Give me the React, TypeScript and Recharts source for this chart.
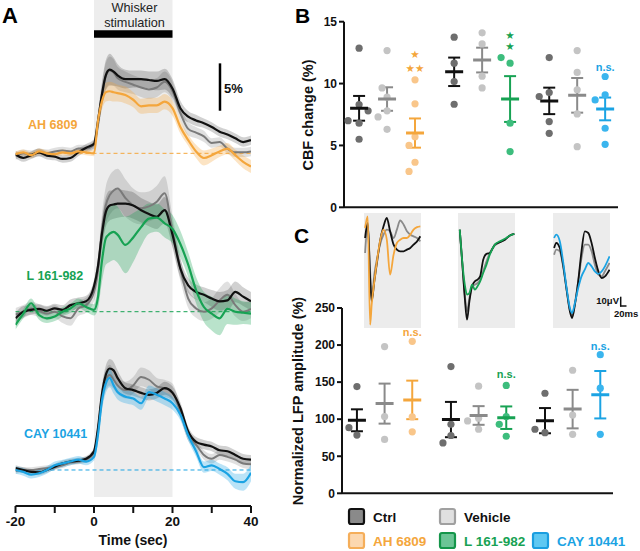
import React from 'react';
import {
  ComposedChart, ScatterChart, LineChart, Line, Area, Scatter, XAxis, YAxis,
  ReferenceArea, ReferenceLine, ErrorBar,
} from 'recharts';

const FONT = '"Liberation Sans", Arial, Helvetica, sans-serif';

// ---------- colours ----------
const C_CTRL = '#111111';
const C_VEH = '#8a8a8a';
const C_AH = '#f4a63c';
const C_L = '#17a253';
const C_CAY = '#1ba3e3';
const D_CTRL = '#6e6e6e';
const D_VEH = '#c4c4c4';
const D_AH = '#f9c68a';
const D_L = '#3dbd7d';
const D_CAY = '#3ab5ee';

// ---------- Panel A : CBF time courses (% change) ----------
const timeSec = [-20, -18, -16, -14, -12, -10, -8, -6, -4, -2, 0, 1, 2, 3, 4, 5, 6, 8, 10, 12, 14, 16, 18, 20, 22, 24, 26, 28, 30, 32, 34, 36, 38, 40];

const ahCtrl = [-0.1, -0.5, -0.2, 0.1, -0.25, -0.35, -0.6, -0.5, 0.1, 0.6, 1.0, 3.4, 6.2, 8.3, 8.9, 8.7, 8.3, 7.9, 7.9, 7.9, 7.8, 7.7, 7.9, 6.9, 4.8, 3.9, 3.5, 3.2, 2.8, 2.3, 2.0, 1.6, 1.2, 1.4];
const ahVeh = [-0.3, 0, -0.1, 0.1, 0, 0.2, 0.3, 0.2, 0.5, 0.5, 0.9, 3.0, 6.0, 8.2, 8.8, 8.6, 8.0, 7.6, 7.3, 7.0, 6.8, 7.0, 7.6, 6.6, 4.3, 2.6, 2.2, 1.8, 1.1, 1.2, 0.5, 0.1, 0.1, 0.2];
const ahDrug = [-0.1, 0.1, -0.2, 0.2, 0, -0.1, 0.1, 0, 0.2, 0.1, 0, 3.4, 5.5, 6.5, 6.6, 6.5, 6.4, 6.2, 5.7, 5.0, 5.1, 5.1, 5.5, 4.8, 2.8, 1.4, 0.2, -0.5, -0.2, 0.2, 0.5, -0.2, -0.9, -1.4];
const ahCtrlSem = [0.4, 0.4, 0.4, 0.4, 0.4, 0.4, 0.4, 0.4, 0.4, 0.4, 0.5, 0.9, 1.3, 1.6, 1.7, 1.5, 1.2, 1.0, 0.9, 0.9, 0.9, 1.0, 1.1, 1.0, 0.8, 0.6, 0.6, 0.5, 0.5, 0.5, 0.5, 0.5, 0.5, 0.5];
const ahVehSem = [0.4, 0.4, 0.4, 0.4, 0.4, 0.4, 0.4, 0.4, 0.4, 0.4, 0.5, 0.9, 1.2, 1.4, 1.5, 1.4, 1.2, 1.1, 1.0, 1.0, 1.0, 1.0, 1.1, 1.0, 0.8, 0.7, 0.6, 0.6, 0.5, 0.5, 0.5, 0.5, 0.5, 0.5];
const ahDrugSem = [0.3, 0.3, 0.3, 0.3, 0.3, 0.3, 0.3, 0.3, 0.3, 0.3, 0.3, 0.7, 0.9, 1.0, 1.0, 1.0, 0.9, 0.9, 0.8, 0.8, 0.8, 0.8, 0.8, 0.8, 0.7, 0.6, 0.7, 0.8, 0.7, 0.6, 0.6, 0.6, 0.7, 0.7];

const lCtrl = [-0.7, 0, 0.2, 0.3, 0.1, 0.35, 0.2, 0.7, 0.9, 1.1, 2.7, 4.8, 8.2, 10.6, 11.3, 11.4, 11.5, 11.5, 11.3, 10.8, 10.4, 10.1, 10.8, 8.2, 4.6, 2.8, 2.1, 1.8, 1.4, 1.1, 1.2, 2.1, 1.6, 1.1];
const lVeh = [-0.3, 0, 0.35, 0.1, -0.2, 0, -0.5, -0.7, 0.35, 0.7, 2.1, 4.3, 8.5, 11.3, 12.4, 12.9, 13.1, 12.1, 11.3, 11.0, 11.2, 11.7, 12.6, 8.5, 4.6, 1.4, 0.35, 0, 0.35, 1.2, 1.8, 0.7, 0, 0.3];
const lDrug = [-1.4, -0.2, 0.9, -0.35, -0.7, -0.5, 0, 0.35, 0.9, 0.5, 0.2, 1.5, 5.3, 7.8, 8.3, 8.5, 8.2, 7.1, 7.9, 9.0, 9.9, 10.0, 9.4, 8.8, 7.2, 5.0, 2.3, 0.5, -0.2, -0.7, 0.3, 0, -0.1, -0.2];
const lCtrlSem = [0.6, 0.6, 0.5, 0.5, 0.5, 0.5, 0.5, 0.6, 0.6, 0.6, 0.7, 1.0, 1.4, 1.6, 1.6, 1.5, 1.5, 1.4, 1.4, 1.3, 1.3, 1.3, 1.4, 1.3, 1.0, 0.8, 0.8, 0.8, 0.9, 1.0, 1.1, 1.1, 1.0, 1.0];
const lVehSem = [0.7, 0.7, 0.7, 0.7, 0.7, 0.7, 0.7, 0.8, 0.8, 0.8, 1.0, 1.4, 1.8, 2.0, 2.1, 2.1, 2.1, 2.0, 1.8, 1.7, 1.6, 1.7, 1.8, 1.7, 1.3, 1.0, 1.0, 1.0, 1.1, 1.3, 1.4, 1.2, 1.0, 1.0];
const lDrugSem = [0.5, 0.5, 0.5, 0.5, 0.5, 0.5, 0.5, 0.5, 0.5, 0.5, 0.6, 1.2, 2.2, 2.8, 3.0, 3.0, 3.0, 3.0, 2.6, 2.0, 1.6, 1.5, 1.5, 1.5, 1.4, 1.3, 1.4, 1.6, 1.8, 1.8, 1.6, 1.4, 1.2, 1.2];

const cayCtrl = [0.2, 0, -0.2, -0.25, 0, 0.35, 0.7, 0.9, 1.0, 1.2, 2.0, 4.4, 8.0, 10.1, 10.8, 10.6, 9.8, 8.7, 8.5, 8.2, 8.0, 8.2, 8.7, 8.2, 6.6, 4.1, 3.0, 2.7, 2.5, 2.1, 2.0, 1.6, 1.2, 1.1];
const cayVeh = [-0.1, 0, 0, 0.1, 0.2, 0.3, 0.5, 0.8, 0.9, 1.1, 1.8, 4.1, 7.6, 9.6, 10.1, 9.6, 9.0, 8.5, 9.0, 9.9, 9.6, 8.9, 8.7, 8.3, 6.2, 3.7, 2.7, 1.6, 1.2, 1.6, 1.4, 1.1, 0.7, 0.6];
const cayDrug = [0, -0.2, -0.5, -0.35, 0, 0.5, 0.7, 0.9, 1.1, 0.9, 1.4, 3.7, 7.3, 9.2, 9.8, 9.0, 8.3, 7.8, 7.6, 7.1, 8.3, 8.0, 7.6, 7.1, 5.9, 3.7, 2.0, 0.3, 0.5, 0.1, -0.4, -1.2, -1.3, -0.3];
const cayCtrlSem = [0.3, 0.3, 0.3, 0.3, 0.3, 0.3, 0.3, 0.3, 0.3, 0.3, 0.4, 0.7, 0.9, 1.0, 1.0, 0.9, 0.8, 0.6, 0.6, 0.6, 0.6, 0.6, 0.7, 0.7, 0.6, 0.5, 0.5, 0.5, 0.5, 0.5, 0.5, 0.5, 0.5, 0.5];
const cayVehSem = [0.3, 0.3, 0.3, 0.3, 0.3, 0.3, 0.3, 0.3, 0.3, 0.3, 0.4, 0.8, 1.0, 1.1, 1.1, 1.0, 0.9, 0.9, 0.9, 1.0, 1.0, 0.9, 0.9, 0.9, 0.7, 0.6, 0.5, 0.5, 0.5, 0.5, 0.5, 0.5, 0.5, 0.5];
const cayDrugSem = [0.4, 0.4, 0.4, 0.4, 0.4, 0.4, 0.4, 0.4, 0.4, 0.4, 0.4, 0.8, 1.0, 1.0, 1.0, 0.9, 0.8, 0.7, 0.7, 0.7, 0.7, 0.7, 0.7, 0.7, 0.6, 0.6, 0.6, 0.6, 0.6, 0.6, 0.7, 0.8, 0.9, 0.9];

const drugNames = ['AH 6809', 'L 161-982', 'CAY 10441'];

// ---------- Panel B : CBF change (%) per animal ----------
const cbfCtrlDots = [[12.86, 6.8, 8.3, 7.0, 5.5, 7.8], [13.75, 11.65, 10.16, 8.33], [12.1, 9.27, 8.95, 6.93, 5.98]];
const cbfVehDots = [[12.67, 8.9, 9.65, 7.8, 7.3, 6.3], [14.1, 13.2, 10.6, 9.65], [12.67, 10.9, 9.5, 7.55, 4.9]];
const cbfDrugDots = [[10.3, 8.36, 5.7, 5.0, 3.64, 2.9], [11.65, 12.1, 6.8, 4.5], [10.57, 9.08, 8.68, 6.39, 5.09]];
const cbfCtrlMean = [8.0, 10.95, 8.6];
const cbfCtrlSem = [1.0, 1.15, 1.07];
const cbfVehMean = [8.75, 11.9, 9.05];
const cbfVehSem = [0.95, 1.0, 1.4];
const cbfDrugMean = [6.0, 8.75, 7.95];
const cbfDrugSem = [1.18, 1.85, 0.92];
const cbfMarks = [
  { group: 0, y: 12.35, label: '★' },
  { group: 0, y: 11.26, label: '★★' },
  { group: 1, y: 13.93, label: '★' },
  { group: 1, y: 13.0, label: '★' },
  { group: 2, y: 11.37, label: 'n.s.' },
];

// ---------- Panel C : normalized LFP amplitude (%) ----------
const lfpCtrlDots = [[144, 78.6, 88.6], [171, 93, 78, 68], [135, 81.8, 86.4]];
const lfpVehDots = [[198, 103.6, 72.7], [144.5, 101.4, 97.7, 86.4], [166, 105.5, 79.5]];
const lfpDrugDots = [[205, 103, 83], [145.5, 103.6, 93, 77], [187, 141.8, 79.5]];
const lfpCtrlMean = [98.5, 99.5, 98];
const lfpCtrlSem = [14.8, 23.8, 17];
const lfpVehMean = [121, 105, 113.6];
const lfpVehSem = [27, 12.6, 26];
const lfpDrugMean = [126, 102, 133];
const lfpDrugSem = [26, 15.2, 32];
const lfpMarks = [
  { group: 0, y: 217, label: 'n.s.' },
  { group: 1, y: 160.5, label: 'n.s.' },
  { group: 2, y: 199, label: 'n.s.' },
];

// ---------- Panel C insets : LFP waveforms (µV vs ms) ----------
const wave1Ms = [5, 17, 28, 35, 47, 60, 73, 89, 104, 119, 135, 150, 165, 181, 196, 211, 226, 242, 257];
const wave1Ctrl = [0, 18, -48, -76, -52, -28, -4, 14, 24, 8, -8, -14, -16, -16, -14, -12, -8, -4, 2];
const wave1Veh = [-18, 16, -40, -74, -44, -24, -8, 4, 10, 8, 0, 10, 21, 16, 8, 4, 2, 0, -4];
const wave1Drug = [12, 26, -104, -80, -52, -26, -4, 10, -2, -44, -20, -6, -2, 0, 0, 4, 10, 13, 14];
const wave2Ms = [8, 18, 31, 41, 52, 64, 77, 89, 101, 115, 130, 145, 168, 191, 214, 237, 257];
const wave2Ctrl = [10, -24, -72, -98, -76, -58, -52, -50, -46, -26, -19, -18, -8, -5, -2, 3, 5];
const wave2Veh = [8, -26, -68, -88, -72, -58, -56, -54, -50, -40, -28, -18, -9, -5, -2, 3, 5];
const wave2Drug = [10, -24, -56, -68, -66, -56, -62, -58, -52, -42, -32, -20, -8, -4, -1, 3, 5];
const wave3Ms = [5, 15, 31, 46, 61, 77, 87, 100, 115, 130, 145, 161, 176, 191, 207, 222, 237, 258];
const wave3Ctrl = [-12, -6, -12, -32, -60, -88, -96, -80, -52, -16, 8, 6, -6, -24, -40, -48, -46, -38];
const wave3Veh = [-20, -14, -16, -34, -60, -86, -94, -78, -52, -24, -8, -8, -16, -32, -44, -46, -40, -30];
const wave3Drug = [0, 4, -4, -28, -58, -84, -90, -78, -60, -46, -38, -30, -34, -40, -43, -40, -34, -22];

// ---------- build tables ----------
const traceGroups = [
  { id: 'a', ctrl: ahCtrl, ctrlSem: ahCtrlSem, veh: ahVeh, vehSem: ahVehSem, drug: ahDrug, drugSem: ahDrugSem, color: C_AH, domain: [-37.52, 16.31] },
  { id: 'b', ctrl: lCtrl, ctrlSem: lCtrlSem, veh: lVeh, vehSem: lVehSem, drug: lDrug, drugSem: lDrugSem, color: C_L, domain: [-20.67, 33.16] },
  { id: 'c', ctrl: cayCtrl, ctrlSem: cayCtrlSem, veh: cayVeh, vehSem: cayVehSem, drug: cayDrug, drugSem: cayDrugSem, color: C_CAY, domain: [-3.83, 50.0] },
];

const traceData = timeSec.map((t, i) => {
  const row: any = { t };
  traceGroups.forEach((g) => {
    row[g.id + 'Ctrl'] = g.ctrl[i];
    row[g.id + 'Veh'] = g.veh[i];
    row[g.id + 'Drug'] = g.drug[i];
    row[g.id + 'CtrlBand'] = [g.ctrl[i] - g.ctrlSem[i], g.ctrl[i] + g.ctrlSem[i]];
    row[g.id + 'VehBand'] = [g.veh[i] - g.vehSem[i], g.veh[i] + g.vehSem[i]];
    row[g.id + 'DrugBand'] = [g.drug[i] - g.drugSem[i], g.drug[i] + g.drugSem[i]];
  });
  return row;
});

const GROUP_GAP = 3.4;
const xPos = (g: number, c: number) => g * GROUP_GAP + c;
const drugColors = [C_AH, C_L, C_CAY];
const drugDotColors = [D_AH, D_L, D_CAY];

// simple beeswarm so overlapping dots are pushed sideways
function swarm(values: number[], pxPerY: number, pxPerX: number, diam: number) {
  const placed: { off: number; v: number }[] = [];
  return values.map((v) => {
    let off = 0;
    for (let k = 0; k < 80; k++) {
      const cand = k === 0 ? 0 : (k % 2 ? -1 : 1) * Math.ceil(k / 2);
      const ok = placed.every((p) => Math.hypot(cand - p.off, (v - p.v) * pxPerY) >= diam);
      if (ok) { off = cand; break; }
    }
    placed.push({ off, v });
    return off / pxPerX;
  });
}

function column(vals: number[], g: number, c: number, pxPerY: number, pxPerX: number) {
  const offs = swarm(vals, pxPerY, pxPerX, 10.5);
  return vals.map((v, i) => ({ x: xPos(g, c) + offs[i], y: v }));
}

function meanRows(means: number[], sems: number[], c: number) {
  return means.map((m, g) => ({ x: xPos(g, c), y: m, err: sems[g] }));
}

const dotShape = (color: string) => (p: any) => (
  <circle cx={p.cx} cy={p.cy} r={3.6} fill={color} stroke="none" />
);
const meanShape = (color: string) => (p: any) => (
  <line x1={p.cx - 9} x2={p.cx + 9} y1={p.cy} y2={p.cy} stroke={color} strokeWidth={3} />
);
const markShape = (p: any) => {
  const star = p.payload.label.indexOf('★') >= 0;
  return (
    <text x={p.cx} y={p.cy} textAnchor="middle" dominantBaseline="central"
      fill={p.payload.color} fontSize={star ? 10.5 : 11} fontWeight={700}
      fontFamily={star ? '"DejaVu Sans", sans-serif' : FONT}>{p.payload.label}</text>
  );
};

function StripPanel(props: any) {
  const { width, height, margin, domain, ticks, yWidth, ctrlDots, vehDots, drugDots,
    ctrlMean, ctrlSem, vehMean, vehSem, drugMean, drugSem, marks, pxPerY, pxPerX } = props;
  const tickStyle = { fill: '#111', fontSize: 12, fontWeight: 700, fontFamily: FONT };
  return (
    <ScatterChart width={width} height={height} margin={margin}>
      <XAxis type="number" dataKey="x" domain={[-0.54, 9.26]} height={2} tick={false} tickLine={false}
        axisLine={{ stroke: '#111', strokeWidth: 2 }} allowDataOverflow />
      <YAxis type="number" dataKey="y" domain={domain} ticks={ticks} width={yWidth} tickSize={5} tickMargin={2}
        interval={0} axisLine={{ stroke: '#111', strokeWidth: 2 }} tickLine={{ stroke: '#111', strokeWidth: 2 }}
        tick={tickStyle} allowDataOverflow />
      <Scatter data={ctrlDots.flatMap((v: number[], g: number) => column(v, g, 0, pxPerY, pxPerX))}
        shape={dotShape(D_CTRL)} isAnimationActive={false} />
      <Scatter data={vehDots.flatMap((v: number[], g: number) => column(v, g, 1, pxPerY, pxPerX))}
        shape={dotShape(D_VEH)} isAnimationActive={false} />
      {drugDots.map((v: number[], g: number) => (
        <Scatter key={'dd' + g} data={column(v, g, 2, pxPerY, pxPerX)} shape={dotShape(drugDotColors[g])}
          isAnimationActive={false} />
      ))}
      <Scatter data={meanRows(vehMean, vehSem, 1)} shape={meanShape(C_VEH)} isAnimationActive={false}>
        <ErrorBar dataKey="err" direction="y" width={6} stroke={C_VEH} strokeWidth={2} />
      </Scatter>
      <Scatter data={meanRows(ctrlMean, ctrlSem, 0)} shape={meanShape(C_CTRL)} isAnimationActive={false}>
        <ErrorBar dataKey="err" direction="y" width={6} stroke={C_CTRL} strokeWidth={2} />
      </Scatter>
      {drugMean.map((m: number, g: number) => (
        <Scatter key={'dm' + g} data={[{ x: xPos(g, 2), y: m, err: drugSem[g] }]}
          shape={meanShape(drugColors[g])} isAnimationActive={false}>
          <ErrorBar dataKey="err" direction="y" width={6} stroke={drugColors[g]} strokeWidth={2} />
        </Scatter>
      ))}
      <Scatter data={marks.map((m: any) => ({ x: xPos(m.group, 2), y: m.y, label: m.label, color: drugColors[m.group] }))}
        shape={markShape} isAnimationActive={false} />
    </ScatterChart>
  );
}

const waveSets = [
  { ms: wave1Ms, ctrl: wave1Ctrl, veh: wave1Veh, drug: wave1Drug, color: C_AH, left: 364 },
  { ms: wave2Ms, ctrl: wave2Ctrl, veh: wave2Veh, drug: wave2Drug, color: C_L, left: 458 },
  { ms: wave3Ms, ctrl: wave3Ctrl, veh: wave3Veh, drug: wave3Drug, color: C_CAY, left: 553 },
];

function Inset({ set }: any) {
  const rows = (arr: number[]) => set.ms.map((ms: number, i: number) => ({ ms, v: arr[i] }));
  return (
    <div style={{ position: 'absolute', left: set.left, top: 213, width: 57, height: 115, background: '#ececec' }}>
      <LineChart width={57} height={115} margin={{ top: 0, right: 0, left: 0, bottom: 0 }}>
        <XAxis type="number" dataKey="ms" domain={[0, 260]} hide allowDataOverflow />
        <YAxis type="number" dataKey="v" domain={[-108, 30]} hide allowDataOverflow />
        <Line data={rows(set.veh)} dataKey="v" stroke={C_VEH} strokeWidth={1.8} dot={false} type="monotone" isAnimationActive={false} />
        <Line data={rows(set.ctrl)} dataKey="v" stroke={C_CTRL} strokeWidth={1.8} dot={false} type="monotone" isAnimationActive={false} />
        <Line data={rows(set.drug)} dataKey="v" stroke={set.color} strokeWidth={1.8} dot={false} type="monotone" isAnimationActive={false} />
      </LineChart>
    </div>
  );
}

const legendItems = [
  { label: 'Ctrl', fill: '#8a8a8a', stroke: '#111', text: '#111', x: 349, y: 509 },
  { label: 'Vehicle', fill: '#e0e0e0', stroke: '#a0a0a0', text: '#111', x: 440, y: 509 },
  { label: drugNames[0], fill: '#fcd8b0', stroke: '#f5ae5a', text: C_AH, x: 349, y: 533 },
  { label: drugNames[1], fill: '#6cc596', stroke: '#14964a', text: C_L, x: 440, y: 533 },
  { label: drugNames[2], fill: '#5ec8f2', stroke: '#1a9ee0', text: C_CAY, x: 533, y: 533 },
];

export default function App() {
  return (
    <div style={{ position: 'absolute', left: 0, top: 0, width: 640, height: 551, background: '#fff', overflow: 'hidden', fontFamily: FONT }}>
      {/* Panel A */}
      <div style={{ position: 'absolute', left: 0, top: 0 }}>
        <ComposedChart width={280} height={551} data={traceData} margin={{ top: 0, right: 29, left: 15.5, bottom: 0 }}>
          <XAxis dataKey="t" type="number" domain={[-20, 40]} ticks={[-20, -10, 0, 10, 20, 30, 40]} interval={0}
            tickFormatter={(v: number) => (v % 20 === 0 ? String(v) : '')} height={45} tickSize={7} tickMargin={3}
            axisLine={{ stroke: '#111', strokeWidth: 2 }} tickLine={{ stroke: '#111', strokeWidth: 2 }}
            tick={{ fill: '#111', fontSize: 13.5, fontWeight: 700, fontFamily: FONT }} allowDataOverflow />
          {traceGroups.map((g) => (
            <YAxis key={'y' + g.id} yAxisId={g.id} type="number" hide domain={g.domain} allowDataOverflow />
          ))}
          <ReferenceArea yAxisId="c" x1={0} x2={20} y1={-2.87} y2={50} fill="#ededed" fillOpacity={1} stroke="none" />
          <ReferenceArea yAxisId="a" x1={0} x2={20} y1={12.3} y2={13.1} fill="#000" fillOpacity={1} stroke="none" />
          {traceGroups.map((g) => (
            <ReferenceLine key={'z' + g.id} yAxisId={g.id} y={0} stroke={g.color} strokeDasharray="4 3" strokeWidth={1} />
          ))}
          {traceGroups.map((g) => (
            <Area key={'vb' + g.id} yAxisId={g.id} dataKey={g.id + 'VehBand'} type="monotone" stroke="none" fill="#000" fillOpacity={0.12} isAnimationActive={false} />
          ))}
          {traceGroups.map((g) => (
            <Area key={'cb' + g.id} yAxisId={g.id} dataKey={g.id + 'CtrlBand'} type="monotone" stroke="none" fill="#000" fillOpacity={0.18} isAnimationActive={false} />
          ))}
          {traceGroups.map((g) => (
            <Area key={'db' + g.id} yAxisId={g.id} dataKey={g.id + 'DrugBand'} type="monotone" stroke="none" fill={g.color} fillOpacity={0.3} isAnimationActive={false} />
          ))}
          {traceGroups.map((g) => (
            <Line key={'vl' + g.id} yAxisId={g.id} dataKey={g.id + 'Veh'} type="monotone" stroke="#7a7a7a" strokeWidth={2} dot={false} isAnimationActive={false} />
          ))}
          {traceGroups.map((g) => (
            <Line key={'cl' + g.id} yAxisId={g.id} dataKey={g.id + 'Ctrl'} type="monotone" stroke={C_CTRL} strokeWidth={2.2} dot={false} isAnimationActive={false} />
          ))}
          {traceGroups.map((g) => (
            <Line key={'dl' + g.id} yAxisId={g.id} dataKey={g.id + 'Drug'} type="monotone" stroke={g.color} strokeWidth={2.2} dot={false} isAnimationActive={false} />
          ))}
          <ReferenceLine yAxisId="a" segment={[{ x: 32.1, y: 4.53 }, { x: 32.1, y: 9.57 }]} stroke="#000" strokeWidth={2.5} />
        </ComposedChart>
      </div>

      {/* Panel B */}
      <div style={{ position: 'absolute', left: 300, top: 0 }}>
        <StripPanel width={340} height={225} margin={{ top: 21.7, right: 22, left: 0, bottom: 15.7 }}
          domain={[0, 15]} ticks={[0, 5, 10, 15]} yWidth={44}
          ctrlDots={cbfCtrlDots} vehDots={cbfVehDots} drugDots={cbfDrugDots}
          ctrlMean={cbfCtrlMean} ctrlSem={cbfCtrlSem} vehMean={cbfVehMean} vehSem={cbfVehSem}
          drugMean={cbfDrugMean} drugSem={cbfDrugSem} marks={cbfMarks} pxPerY={12.37} pxPerX={27.96} />
      </div>

      {/* Panel C */}
      <div style={{ position: 'absolute', left: 300, top: 295 }}>
        <StripPanel width={340} height={215} margin={{ top: 13, right: 27, left: 0, bottom: 14.7 }}
          domain={[0, 250]} ticks={[0, 50, 100, 150, 200, 250]} yWidth={42}
          ctrlDots={lfpCtrlDots} vehDots={lfpVehDots} drugDots={lfpDrugDots}
          ctrlMean={lfpCtrlMean} ctrlSem={lfpCtrlSem} vehMean={lfpVehMean} vehSem={lfpVehSem}
          drugMean={lfpDrugMean} drugSem={lfpDrugSem} marks={lfpMarks} pxPerY={0.741} pxPerX={27.65} />
      </div>

      {waveSets.map((s, i) => <Inset key={'in' + i} set={s} />)}

      {/* text overlay */}
      <svg width={640} height={551} style={{ position: 'absolute', left: 0, top: 0, pointerEvents: 'none' }} fontFamily={FONT}>
        <text x={2} y={22.7} fontSize={22} fontWeight={700} fill="#000">A</text>
        <text x={295} y={23.3} fontSize={21} fontWeight={700} fill="#000">B</text>
        <text x={294} y={243} fontSize={21} fontWeight={700} fill="#000">C</text>

        <text x={134.5} y={12} textAnchor="middle" fontSize={12.7} fill="#222">Whisker</text>
        <text x={134.5} y={26.8} textAnchor="middle" fontSize={12.7} fill="#222">stimulation</text>
        <text x={224} y={93} fontSize={13} fontWeight={700} fill="#111">5%</text>

        <text x={28} y={129} fontSize={12.5} fontWeight={700} fill={C_AH}>{drugNames[0]}</text>
        <text x={26.5} y={279.5} fontSize={12.5} fontWeight={700} fill={C_L}>{drugNames[1]}</text>
        <text x={24} y={437.5} fontSize={12.5} fontWeight={700} fill={C_CAY}>{drugNames[2]}</text>

        <text x={133} y={545} textAnchor="middle" fontSize={14} fontWeight={700} fill="#111">Time (sec)</text>

        <text transform="translate(313,115) rotate(-90)" textAnchor="middle" fontSize={14.5} fontWeight={700} fill="#111">CBF change (%)</text>
        <text transform="translate(303,401) rotate(-90)" textAnchor="middle" fontSize={14.5} fontWeight={700} fill="#111">Normalized LFP amplitude (%)</text>

        <line x1={620.7} x2={620.7} y1={296.7} y2={306.5} stroke="#111" strokeWidth={1.5} />
        <line x1={620} x2={626.5} y1={306} y2={306} stroke="#111" strokeWidth={1.5} />
        <text x={619} y={304} textAnchor="end" fontSize={9.5} fontWeight={700} fill="#111">10μV</text>
        <text x={614} y={316.7} fontSize={9.5} fontWeight={700} fill="#111">20ms</text>

        {legendItems.map((it) => (
          <g key={it.label}>
            <rect x={it.x} y={it.y} width={15} height={15} rx={2} fill={it.fill} stroke={it.stroke} strokeWidth={2.2} />
            <text x={it.x + 24} y={it.y + 13} fontSize={13.5} fontWeight={700} fill={it.text}>{it.label}</text>
          </g>
        ))}
      </svg>
    </div>
  );
}
